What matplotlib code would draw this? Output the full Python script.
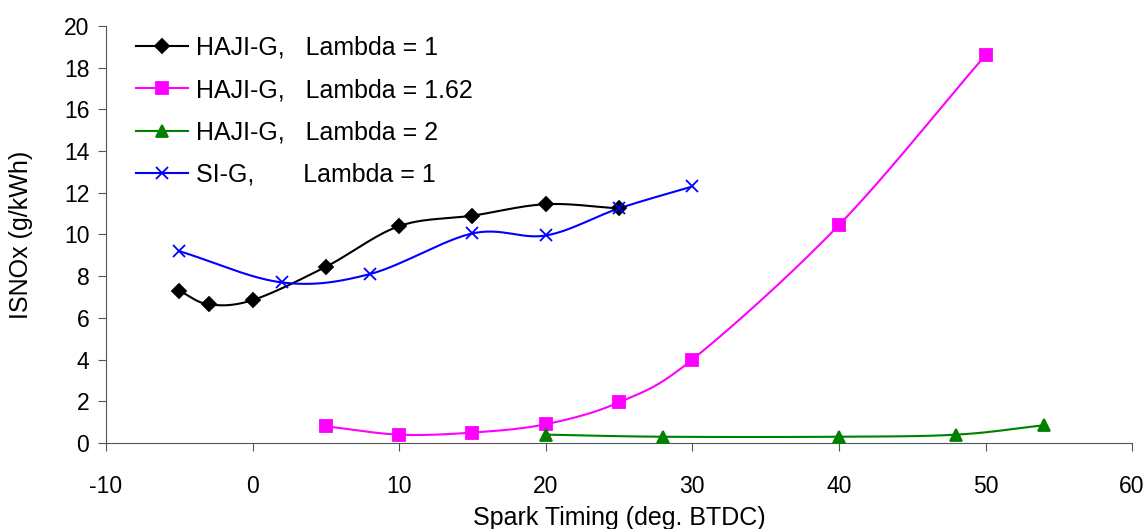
import numpy as np
import matplotlib
matplotlib.use('Agg')
import matplotlib.pyplot as plt
from matplotlib.lines import Line2D

plt.rcParams['font.family'] = ['Liberation Sans', 'DejaVu Sans']
plt.rcParams['axes.unicode_minus'] = False

# HAJI-G, lambda = 1
x_l1 = [-5, -3, 0, 5, 10, 15, 20, 25]
y_l1 = [7.3, 6.65, 6.85, 8.45, 10.4, 10.9, 11.45, 11.25]
# HAJI-G, lambda = 1.62
x_l162 = [5, 10, 15, 20, 25, 30, 40, 50]
y_l162 = [0.8, 0.4, 0.5, 0.9, 1.95, 4.0, 10.45, 18.6]
# HAJI-G, lambda = 2
x_l2 = [20, 28, 40, 48, 54]
y_l2 = [0.4, 0.3, 0.3, 0.4, 0.85]
# SI-G, lambda = 1
x_si = [-5, 2, 8, 15, 20, 25, 30]
y_si = [9.2, 7.7, 8.1, 10.05, 9.95, 11.25, 12.3]

labels = ['HAJI-G,   Lambda = 1', 'HAJI-G,   Lambda = 1.62',
          'HAJI-G,   Lambda = 2', 'SI-G,       Lambda = 1']


def smooth(x, y, n=30):
    # bezier through the points, like the excel "smoothed line"
    p = np.column_stack([x, y]).astype(float)
    p = np.vstack([2 * p[0] - p[1], p, 2 * p[-1] - p[-2]])
    out = []
    t = np.linspace(0, 1, n)[:, None]
    for i in range(1, len(p) - 2):
        p0, p1, p2, p3 = p[i - 1], p[i], p[i + 1], p[i + 2]
        c1 = p1 + (p2 - p0) / 6
        c2 = p2 - (p3 - p1) / 6
        seg = ((1 - t) ** 3) * p1 + 3 * ((1 - t) ** 2) * t * c1 + 3 * (1 - t) * t ** 2 * c2 + t ** 3 * p2
        out.append(seg)
    s = np.vstack(out)
    return s[:, 0], s[:, 1]


fig = plt.figure(figsize=(11.47, 5.29), dpi=100)
ax = fig.add_axes([0.0924, 0.1626, 0.8946, 0.7884])

series = [
    (x_l1, y_l1, 'black', 'D', 7),
    (x_l162, y_l162, '#ff00ff', 's', 8),
    (x_l2, y_l2, 'green', '^', 9),
    (x_si, y_si, 'blue', 'x', 9),
]
handles = []
for (x, y, c, m, ms), lab in zip(series, labels):
    sx, sy = smooth(x, y)
    ax.plot(sx, sy, color=c, lw=1.5, zorder=2)
    ax.plot(x, y, ls='none', marker=m, ms=ms, color=c, mec=c, mew=1.3, zorder=3)
    handles.append(Line2D([], [], color=c, lw=1.5, marker=m, ms=ms, mew=1.3, label=lab))

ax.set_xlim(-10, 60)
ax.set_ylim(0, 20)
ax.set_xticks(range(-10, 61, 10))
ax.set_yticks(range(0, 21, 2))
for s in ['top', 'right']:
    ax.spines[s].set_visible(False)
for s in ['left', 'bottom']:
    ax.spines[s].set_color('#555555')
ax.tick_params(direction='out', length=6, color='#555555', labelsize=16.5)
ax.tick_params(axis='x', pad=17)
ax.tick_params(axis='y', pad=6)
ax.set_xlabel('Spark Timing (deg. BTDC)', fontsize=18, labelpad=6)
ax.set_ylabel('ISNOx (g/kWh)', fontsize=18, labelpad=22)

ax.legend(handles=handles, loc='upper left', bbox_to_anchor=(0.007, 1.03), frameon=False,
          fontsize=18, handlelength=2.1, handletextpad=0.3, labelspacing=0.73)

fig.savefig('out.png', dpi=100)
